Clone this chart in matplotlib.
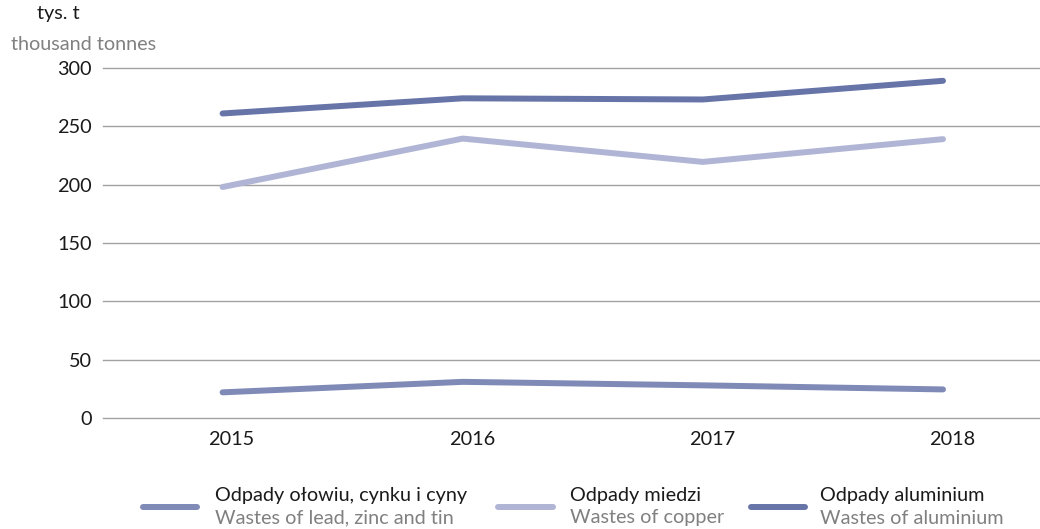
import matplotlib
matplotlib.use("Agg")
import matplotlib.pyplot as plt
import matplotlib.transforms as mtransforms
from matplotlib.lines import Line2D

plt.rcParams['font.family'] = ['Lato', 'DejaVu Sans']

years = ["2015", "2016", "2017", "2018"]
lead_zinc_tin = [22, 31, 28, 24.5]
copper = [198, 239.5, 219.5, 239]
aluminium = [261, 274, 273, 289]

series_pl = ["Odpady ołowiu, cynku i cyny", "Odpady miedzi", "Odpady aluminium"]
series_en = ["Wastes of lead, zinc and tin", "Wastes of copper", "Wastes of aluminium"]
colors = ["#7f8ab6", "#b0b5d5", "#6674a8"]
yticks = [0, 50, 100, 150, 200, 250, 300]

fig = plt.figure(figsize=(10.4, 5.29), dpi=100)
ax = fig.add_axes([0.0995, 0.2098, 0.9005, 0.6617])

x = list(range(len(years)))
for vals, c in zip([lead_zinc_tin, copper, aluminium], colors):
    ax.plot(x, vals, color=c, lw=4.3, solid_capstyle='round', solid_joinstyle='round', zorder=3)

ax.set_ylim(0, 300)
ax.set_xlim(-0.496, 3.404)
ax.set_yticks(yticks)
ax.set_yticklabels([str(v) for v in yticks])
ax.set_xticks(x)
ax.set_xticklabels(years)
ax.grid(axis='y', color='#a2a2a2', lw=1.0)
for gl in ax.get_ygridlines():
    gl.set_clip_on(False)
ax.set_axisbelow(True)
for s in ax.spines.values():
    s.set_visible(False)
ax.tick_params(axis='both', length=0, labelsize=14.3, colors='#1a1a1a')
ax.tick_params(axis='y', pad=8.5)
ax.tick_params(axis='x', pad=9)
offset = mtransforms.ScaledTranslation(9 / 100, 0, fig.dpi_scale_trans)
for lbl in ax.get_xticklabels():
    lbl.set_transform(lbl.get_transform() + offset)

fig.text(58 / 1040, 1 - 13 / 529, "tys. t", ha='center', va='center', fontsize=14.3, color='#1a1a1a')
fig.text(84 / 1040, 1 - 45 / 529, "thousand tonnes", ha='center', va='center', fontsize=14.3, color='#808080')

handle_x = [(143, 197), (498, 553), (751, 805)]
text_x = [215, 570, 820]
for (x0, x1), tx, c, pl, en in zip(handle_x, text_x, colors, series_pl, series_en):
    fig.add_artist(Line2D([x0 / 1040, x1 / 1040], [1 - 507 / 529] * 2, color=c, lw=4.3,
                          solid_capstyle='round', transform=fig.transFigure))
    fig.text(tx / 1040, 1 - 495 / 529, pl, ha='left', va='center', fontsize=14.3, color='#1a1a1a')
    fig.text(tx / 1040, 1 - 518 / 529, en, ha='left', va='center', fontsize=14.3, color='#808080')

fig.savefig("out.png", dpi=100)
